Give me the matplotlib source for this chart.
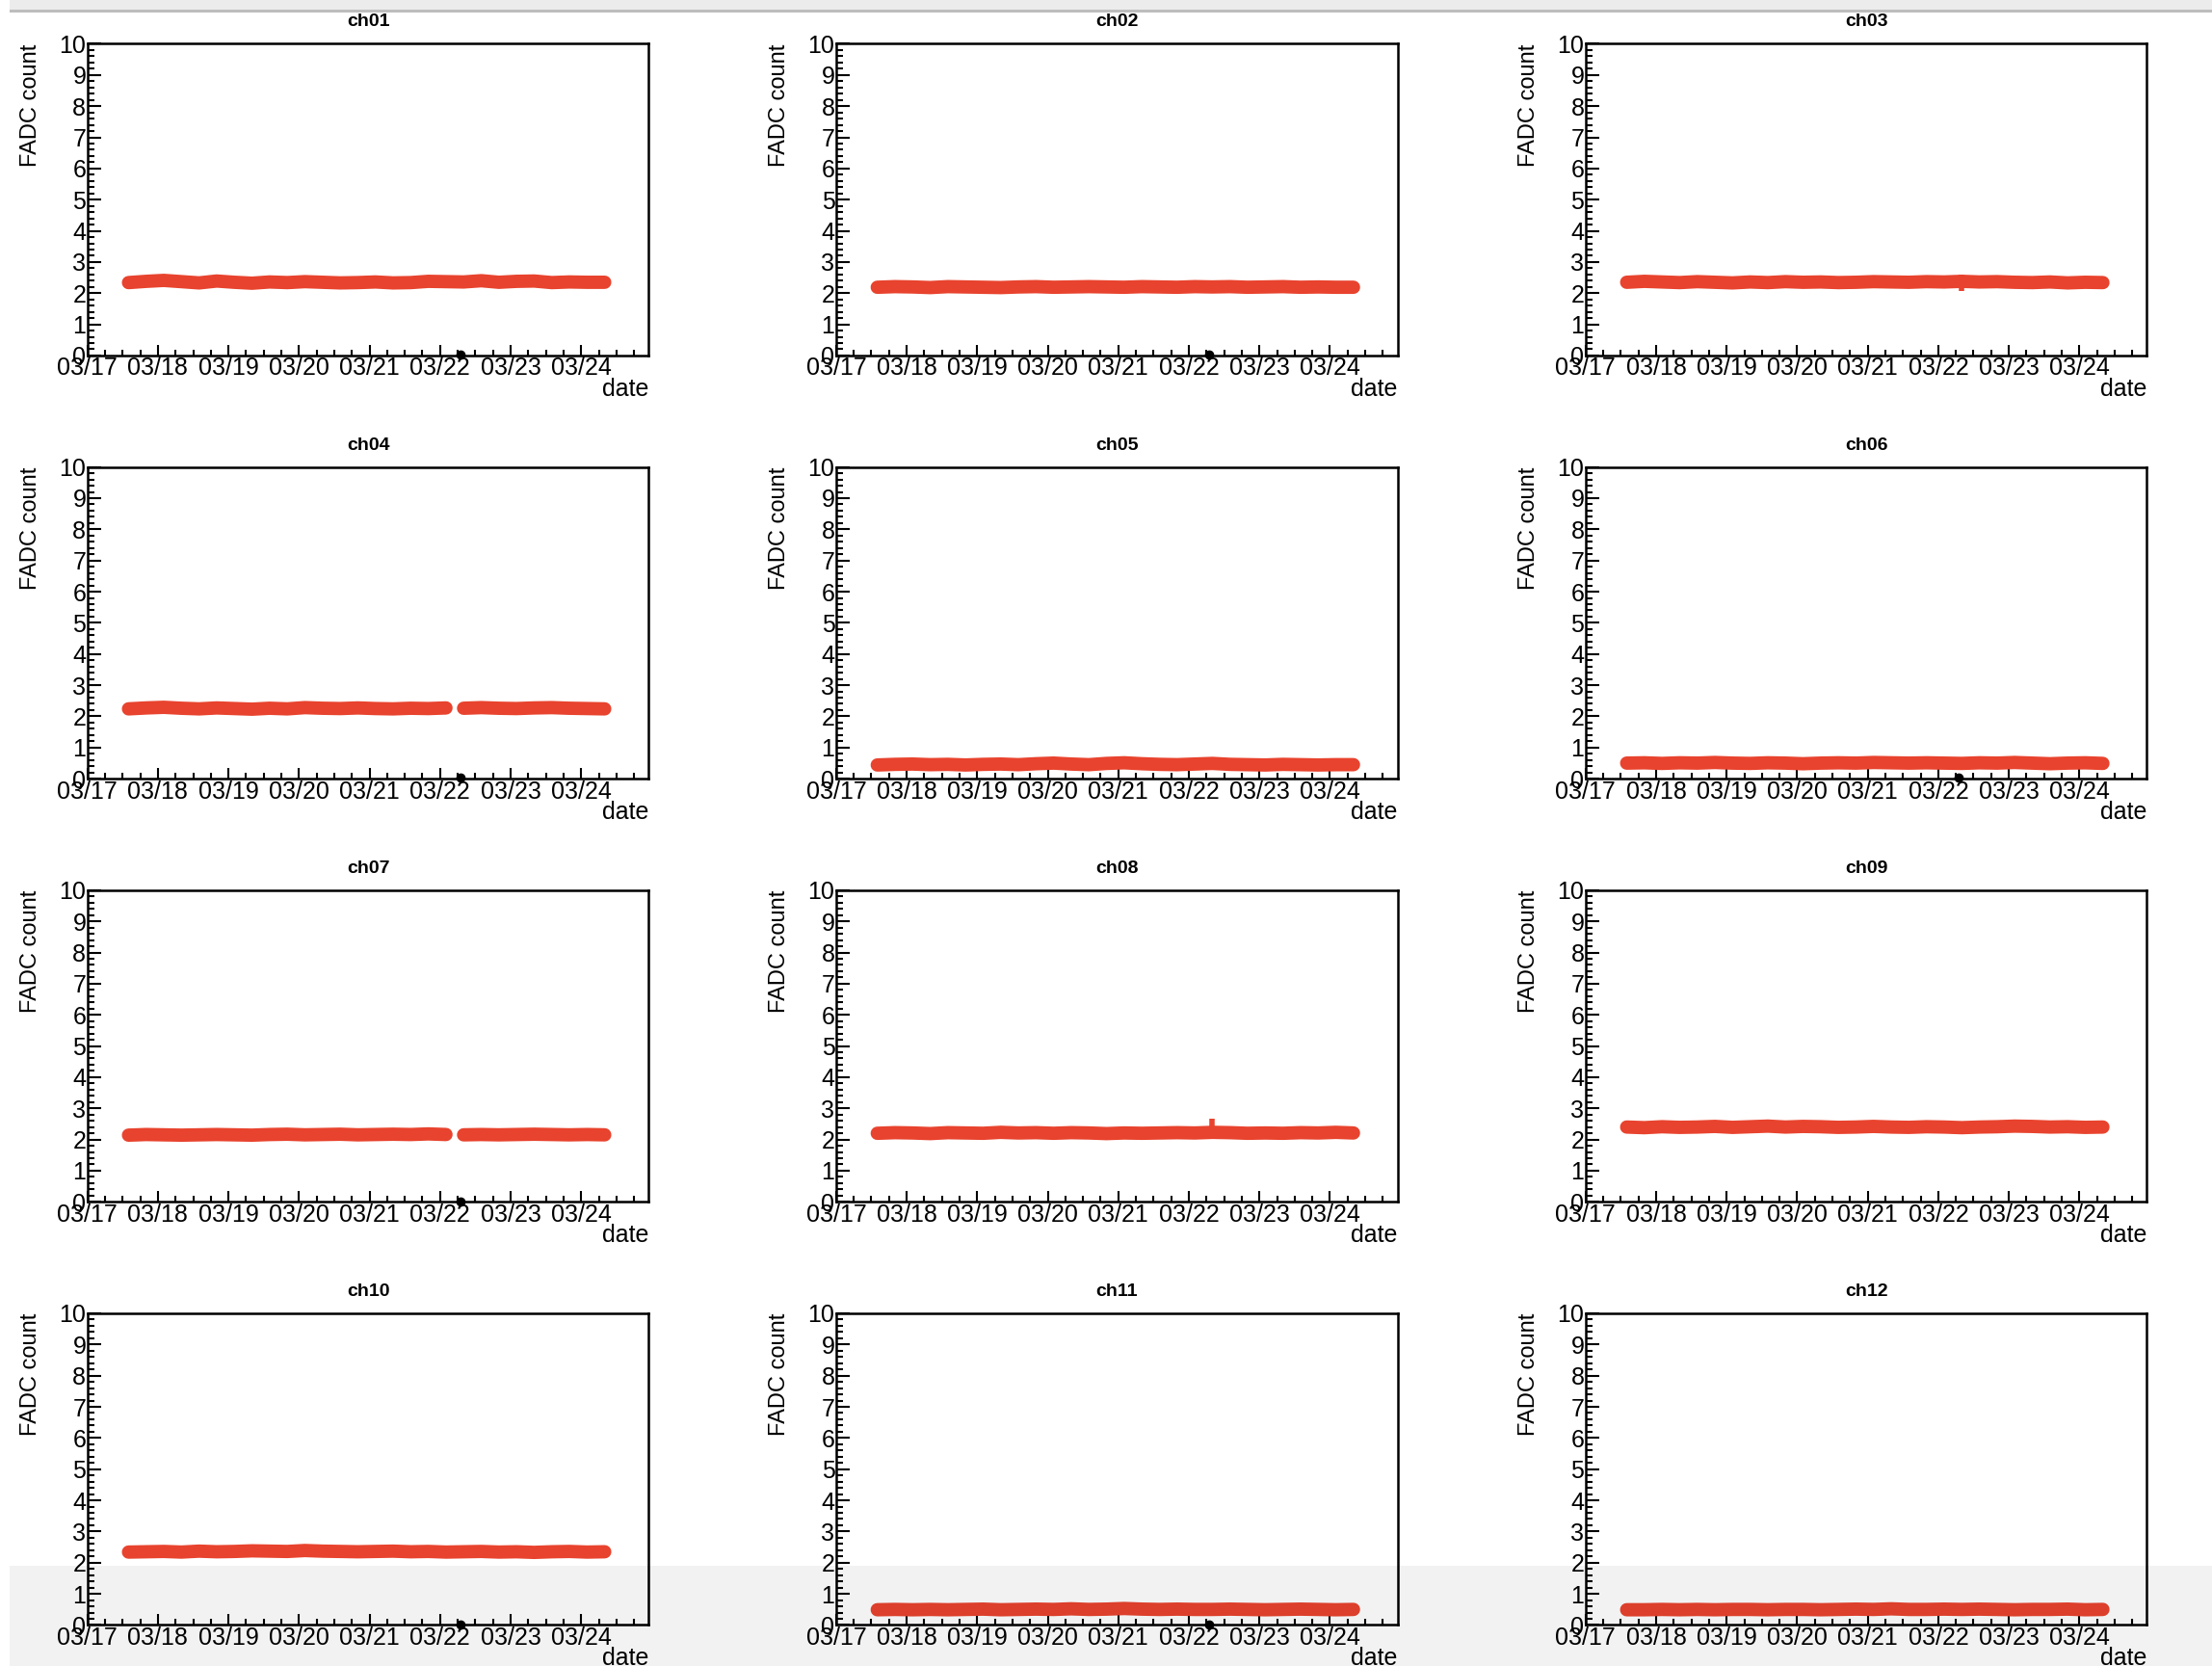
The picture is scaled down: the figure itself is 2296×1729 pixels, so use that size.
import numpy as np
import pandas as pd
import matplotlib.pyplot as plt
import matplotlib.dates as mdates
from matplotlib.ticker import MultipleLocator
from matplotlib.patches import Rectangle

plt.rcParams['font.family'] = ['Liberation Sans', 'DejaVu Sans']

# sampling times of the readout (every 6 hours)
times = pd.date_range("2015-03-17 14:00", "2015-03-24 08:00", freq="6h")

channels = ["ch%02d" % i for i in range(1, 13)]

ch01 = [2.34, 2.38, 2.41, 2.37, 2.33, 2.39, 2.35, 2.32, 2.36, 2.34, 2.37, 2.35, 2.33, 2.34,
        2.36, 2.33, 2.34, 2.38, 2.37, 2.36, 2.40, 2.35, 2.38, 2.39, 2.34, 2.36, 2.35, 2.35]
ch02 = [2.19, 2.21, 2.20, 2.18, 2.21, 2.20, 2.19, 2.18, 2.20, 2.21, 2.19, 2.20, 2.21, 2.20,
        2.19, 2.21, 2.20, 2.19, 2.21, 2.20, 2.21, 2.19, 2.20, 2.21, 2.19, 2.20, 2.19, 2.19]
ch03 = [2.35, 2.38, 2.36, 2.34, 2.37, 2.35, 2.33, 2.36, 2.34, 2.37, 2.35, 2.36, 2.34, 2.35,
        2.37, 2.36, 2.35, 2.37, 2.36, 2.38, 2.36, 2.37, 2.35, 2.34, 2.36, 2.33, 2.35, 2.34]
ch04 = [2.24, 2.27, 2.29, 2.26, 2.24, 2.27, 2.25, 2.23, 2.26, 2.24, 2.28, 2.26, 2.25, 2.27,
        2.25, 2.24, 2.26, 2.25, 2.27, 2.26, 2.28, 2.26, 2.25, 2.27, 2.28, 2.26, 2.25, 2.24]
ch05 = [0.44, 0.46, 0.47, 0.45, 0.46, 0.44, 0.46, 0.47, 0.45, 0.48, 0.50, 0.47, 0.45, 0.49,
        0.51, 0.48, 0.46, 0.45, 0.47, 0.49, 0.46, 0.45, 0.44, 0.46, 0.45, 0.44, 0.45, 0.45]
ch06 = [0.50, 0.51, 0.49, 0.51, 0.50, 0.52, 0.50, 0.49, 0.51, 0.50, 0.48, 0.50, 0.51, 0.50,
        0.52, 0.51, 0.50, 0.51, 0.50, 0.49, 0.51, 0.50, 0.52, 0.50, 0.48, 0.50, 0.51, 0.49]
ch07 = [2.14, 2.16, 2.15, 2.14, 2.15, 2.16, 2.15, 2.14, 2.16, 2.17, 2.15, 2.16, 2.17, 2.15,
        2.16, 2.17, 2.16, 2.18, 2.16, 2.15, 2.16, 2.15, 2.16, 2.17, 2.16, 2.15, 2.16, 2.15]
ch08 = [2.20, 2.22, 2.21, 2.19, 2.22, 2.21, 2.20, 2.23, 2.21, 2.22, 2.20, 2.22, 2.21, 2.19,
        2.21, 2.20, 2.21, 2.22, 2.21, 2.23, 2.22, 2.20, 2.21, 2.20, 2.22, 2.21, 2.23, 2.21]
ch09 = [2.40, 2.38, 2.41, 2.39, 2.40, 2.42, 2.39, 2.41, 2.43, 2.40, 2.42, 2.41, 2.39, 2.40,
        2.42, 2.40, 2.39, 2.41, 2.40, 2.38, 2.40, 2.41, 2.43, 2.42, 2.40, 2.41, 2.39, 2.40]
ch10 = [2.34, 2.35, 2.36, 2.34, 2.37, 2.35, 2.36, 2.38, 2.37, 2.36, 2.39, 2.37, 2.36, 2.35,
        2.36, 2.37, 2.35, 2.36, 2.34, 2.35, 2.36, 2.34, 2.35, 2.33, 2.35, 2.36, 2.34, 2.35]
ch11 = [0.49, 0.50, 0.49, 0.50, 0.49, 0.50, 0.51, 0.49, 0.50, 0.51, 0.50, 0.52, 0.50, 0.51,
        0.53, 0.51, 0.50, 0.51, 0.50, 0.50, 0.51, 0.50, 0.49, 0.50, 0.51, 0.50, 0.49, 0.50]
ch12 = [0.49, 0.49, 0.50, 0.49, 0.50, 0.49, 0.50, 0.50, 0.49, 0.50, 0.50, 0.49, 0.50, 0.51,
        0.50, 0.52, 0.50, 0.50, 0.51, 0.50, 0.51, 0.50, 0.49, 0.50, 0.50, 0.51, 0.49, 0.50]
values = [ch01, ch02, ch03, ch04, ch05, ch06, ch07, ch08, ch09, ch10, ch11, ch12]

# short excursions: (time, low, high)
spikes = {
    "ch03": [("2015-03-22 08:00", 2.08, 2.60)],
    "ch08": [("2015-03-22 08:00", 2.15, 2.68)],
    "ch09": [("2015-03-23 10:00", 2.20, 2.45)],
    "ch10": [("2015-03-21 17:00", 2.18, 2.40)],
    "ch12": [("2015-03-21 00:00", 0.45, 0.60), ("2015-03-22 08:00", 0.45, 0.63)],
}
# missing readout
gaps = {"ch04": ["2015-03-22 05:00"], "ch07": ["2015-03-22 05:00"]}
# single zero readings
zeros = {ch: "2015-03-22 07:00" for ch in ["ch01", "ch02", "ch04", "ch06", "ch07", "ch10", "ch11"]}

red = "#e8432e"
lefts = [0.0395, 0.378, 0.7168]
bottoms = [0.7866, 0.5326, 0.2786, 0.0246]
w, h = 0.2538, 0.1871

fig = plt.figure(figsize=(22.96, 17.29), dpi=100)

for i, ch in enumerate(channels):
    r, c = divmod(i, 3)
    ax = fig.add_axes([lefts[c], bottoms[r], w, h])

    s = pd.Series(values[i], index=times)
    for g in gaps.get(ch, []):
        s[pd.Timestamp(g)] = np.nan
    s = s.sort_index()
    ax.plot(s.index, s.values, color=red, lw=10, solid_capstyle="round",
            solid_joinstyle="round", zorder=3)
    for t, lo, hi in spikes.get(ch, []):
        ax.vlines(pd.Timestamp(t), lo, hi, color=red, lw=4, zorder=3)
    if ch in zeros:
        ax.plot([pd.Timestamp(zeros[ch])], [0.02], "o", color="black", ms=6,
                clip_on=False, zorder=4)

    ax.set_xlim(pd.Timestamp("2015-03-17 00:00"), pd.Timestamp("2015-03-24 23:00"))
    ax.set_ylim(0, 10)
    ax.xaxis.set_major_locator(mdates.DayLocator())
    ax.xaxis.set_minor_locator(mdates.HourLocator(byhour=[0, 6, 12, 18]))
    ax.xaxis.set_major_formatter(mdates.DateFormatter("%m/%d"))
    ax.yaxis.set_major_locator(MultipleLocator(1))
    ax.yaxis.set_minor_locator(MultipleLocator(0.2))

    ax.tick_params(which="both", direction="in", top=False, right=False,
                   width=1.5, labelsize=18, colors="black")
    ax.tick_params(axis="y", which="major", length=10, pad=1)
    ax.tick_params(axis="y", which="minor", length=5)
    ax.tick_params(axis="x", which="major", length=8, pad=1)
    ax.tick_params(axis="x", which="minor", length=4)
    for spine in ax.spines.values():
        spine.set_linewidth(1.8)

    ax.set_title(ch, fontsize=14, fontweight="bold", pad=13)
    ax.set_xlabel("date", fontsize=18)
    ax.xaxis.set_label_coords(1.0, -0.07)
    ax.xaxis.label.set_ha("right")
    ax.set_ylabel("FADC count", fontsize=17, loc="top")
    ax.yaxis.set_label_coords(-0.082, 1.0)

# screenshot edges
fig.add_artist(Rectangle((0.0045, 0.9935), 0.9955, 0.0065, transform=fig.transFigure,
                         facecolor="#ececec", edgecolor="none", zorder=10))
fig.add_artist(Rectangle((0.0045, 0.9925), 0.9955, 0.002, transform=fig.transFigure,
                         facecolor="#bdbdbd", edgecolor="none", zorder=10))
fig.add_artist(Rectangle((0.0045, 0.0), 0.9955, 0.06, transform=fig.transFigure,
                         facecolor="black", alpha=0.05, edgecolor="none", zorder=10))

fig.savefig("out.png", dpi=100)
